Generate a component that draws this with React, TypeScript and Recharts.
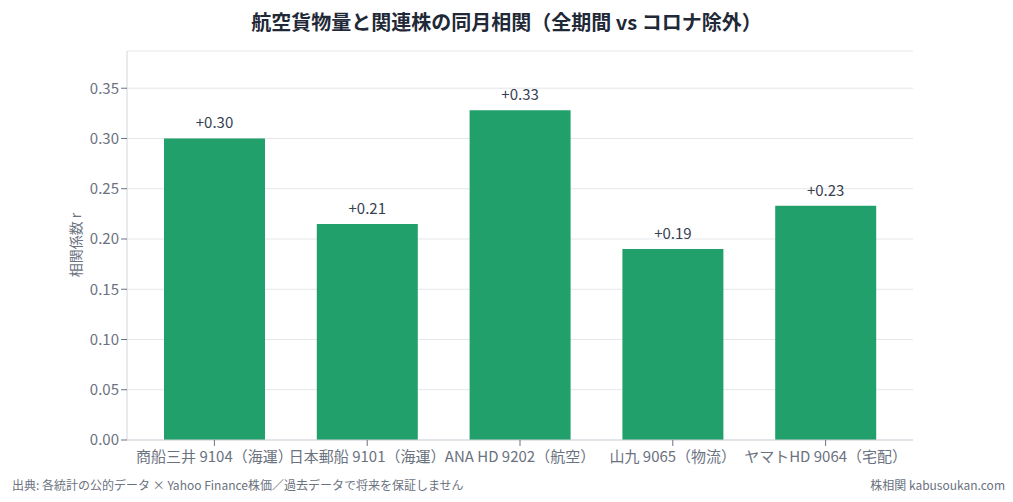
import React from "react";
import {
  BarChart,
  Bar,
  XAxis,
  YAxis,
  CartesianGrid,
  LabelList,
} from "recharts";

const categories = [
  "商船三井 9104（海運）",
  "日本郵船 9101（海運）",
  "ANA HD 9202（航空）",
  "山九 9065（物流）",
  "ヤマトHD 9064（宅配）",
];
const correlations = [0.3, 0.215, 0.328, 0.19, 0.233];
const yTicks = [0, 0.05, 0.1, 0.15, 0.2, 0.25, 0.3, 0.35];

const data = categories.map((name, i) => ({ name, r: correlations[i] }));
const yMax = Math.max(...correlations) * 1.18;

const FONT = '"Noto Sans CJK JP", "Noto Sans", sans-serif';

export default function App() {
  return (
    <div
      style={{
        position: "absolute",
        left: 0,
        top: 0,
        width: 1013,
        height: 502,
        background: "#fff",
        fontFamily: FONT,
      }}
    >
      <div
        style={{
          position: "absolute",
          top: 8,
          left: 0,
          width: 1013,
          textAlign: "center",
          fontSize: 20,
          fontWeight: 700,
          color: "#1f2937",
          lineHeight: "28px",
        }}
      >
        航空貨物量と関連株の同月相関（全期間 vs コロナ除外）
      </div>
      <div
        style={{
          position: "absolute",
          left: 75,
          top: 245,
          transform: "translate(-50%, -50%) rotate(-90deg)",
          fontSize: 14,
          color: "#6b7280",
          whiteSpace: "nowrap",
        }}
      >
        相関係数 r
      </div>
      <BarChart
        width={1013}
        height={502}
        data={data}
        margin={{ top: 51, right: 100, bottom: 32, left: 60 }}
        style={{ fontFamily: FONT }}
      >
        <CartesianGrid vertical={false} stroke="#e5e7eb" />
        <XAxis
          dataKey="name"
          height={30}
          padding={{ left: 11, right: 11 }}
          stroke="#d1d5db"
          tick={{ fill: "#6b7280", fontSize: 15 }}
          tickLine={{ stroke: "#6b7280" }}
          tickMargin={5}
          interval={0}
        />
        <YAxis
          width={67}
          domain={[0, yMax]}
          ticks={yTicks}
          allowDataOverflow
          tickFormatter={(v: number) => v.toFixed(2)}
          stroke="#d1d5db"
          tick={{ fill: "#6b7280", fontSize: 15 }}
          tickLine={{ stroke: "#6b7280" }}
        />
        <Bar dataKey="r" fill="#22a06b" barSize={101} isAnimationActive={false}>
          <LabelList
            dataKey="r"
            position="top"
            offset={10}
            fill="#374151"
            fontSize={15}
            formatter={(v: any) => "+" + Number(v).toFixed(2)}
          />
        </Bar>
      </BarChart>
      <div
        style={{
          position: "absolute",
          left: 12,
          top: 476,
          fontSize: 12,
          color: "#6b7280",
          whiteSpace: "nowrap",
        }}
      >
        出典: 各統計の公的データ × Yahoo Finance株価／過去データで将来を保証しません
      </div>
      <div
        style={{
          position: "absolute",
          right: 8,
          top: 476,
          fontSize: 12,
          color: "#6b7280",
          whiteSpace: "nowrap",
        }}
      >
        株相関 kabusoukan.com
      </div>
    </div>
  );
}
